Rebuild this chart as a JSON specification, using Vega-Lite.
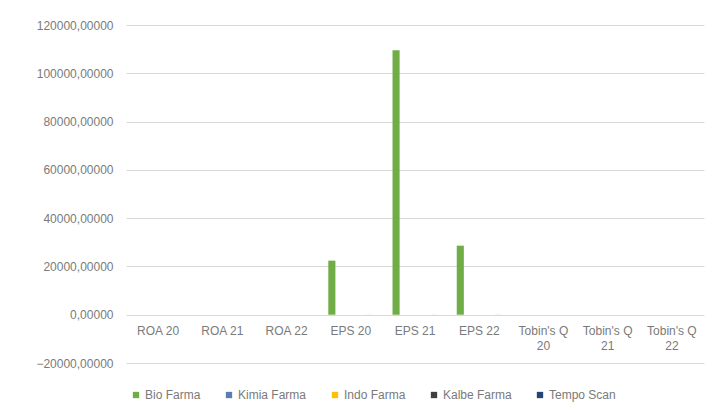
{
  "$schema": "https://vega.github.io/schema/vega-lite/v6.json",
  "autosize": "none",
  "width": 578,
  "height": 338,
  "padding": {"left": 126, "top": 25, "right": 11, "bottom": 53},
  "background": "white",
  "config": {
    "view": {"stroke": null},
    "font": "Liberation Sans"
  },
  "data": {
    "values": [
      {"indikator": "ROA 20", "perusahaan": "Bio Farma", "nilai": 0.03},
      {"indikator": "ROA 20", "perusahaan": "Kimia Farma", "nilai": 0.0},
      {"indikator": "ROA 20", "perusahaan": "Indo Farma", "nilai": 0.0},
      {"indikator": "ROA 20", "perusahaan": "Kalbe Farma", "nilai": 0.12},
      {"indikator": "ROA 20", "perusahaan": "Tempo Scan", "nilai": 0.09},
      {"indikator": "ROA 21", "perusahaan": "Bio Farma", "nilai": 0.05},
      {"indikator": "ROA 21", "perusahaan": "Kimia Farma", "nilai": 0.01},
      {"indikator": "ROA 21", "perusahaan": "Indo Farma", "nilai": -0.02},
      {"indikator": "ROA 21", "perusahaan": "Kalbe Farma", "nilai": 0.13},
      {"indikator": "ROA 21", "perusahaan": "Tempo Scan", "nilai": 0.09},
      {"indikator": "ROA 22", "perusahaan": "Bio Farma", "nilai": 0.01},
      {"indikator": "ROA 22", "perusahaan": "Kimia Farma", "nilai": -0.01},
      {"indikator": "ROA 22", "perusahaan": "Indo Farma", "nilai": -0.1},
      {"indikator": "ROA 22", "perusahaan": "Kalbe Farma", "nilai": 0.13},
      {"indikator": "ROA 22", "perusahaan": "Tempo Scan", "nilai": 0.1},
      {"indikator": "EPS 20", "perusahaan": "Bio Farma", "nilai": 22400},
      {"indikator": "EPS 20", "perusahaan": "Kimia Farma", "nilai": 3},
      {"indikator": "EPS 20", "perusahaan": "Indo Farma", "nilai": 0},
      {"indikator": "EPS 20", "perusahaan": "Kalbe Farma", "nilai": 6},
      {"indikator": "EPS 20", "perusahaan": "Tempo Scan", "nilai": 18},
      {"indikator": "EPS 21", "perusahaan": "Bio Farma", "nilai": 109500},
      {"indikator": "EPS 21", "perusahaan": "Kimia Farma", "nilai": 5},
      {"indikator": "EPS 21", "perusahaan": "Indo Farma", "nilai": -2},
      {"indikator": "EPS 21", "perusahaan": "Kalbe Farma", "nilai": 7},
      {"indikator": "EPS 21", "perusahaan": "Tempo Scan", "nilai": 20},
      {"indikator": "EPS 22", "perusahaan": "Bio Farma", "nilai": 28600},
      {"indikator": "EPS 22", "perusahaan": "Kimia Farma", "nilai": -3},
      {"indikator": "EPS 22", "perusahaan": "Indo Farma", "nilai": -17},
      {"indikator": "EPS 22", "perusahaan": "Kalbe Farma", "nilai": 7},
      {"indikator": "EPS 22", "perusahaan": "Tempo Scan", "nilai": 27},
      {"indikator": "Tobin's Q 20", "perusahaan": "Bio Farma", "nilai": 1.2},
      {"indikator": "Tobin's Q 20", "perusahaan": "Kimia Farma", "nilai": 2.1},
      {"indikator": "Tobin's Q 20", "perusahaan": "Indo Farma", "nilai": 3.4},
      {"indikator": "Tobin's Q 20", "perusahaan": "Kalbe Farma", "nilai": 3.5},
      {"indikator": "Tobin's Q 20", "perusahaan": "Tempo Scan", "nilai": 1.0},
      {"indikator": "Tobin's Q 21", "perusahaan": "Bio Farma", "nilai": 1.1},
      {"indikator": "Tobin's Q 21", "perusahaan": "Kimia Farma", "nilai": 1.6},
      {"indikator": "Tobin's Q 21", "perusahaan": "Indo Farma", "nilai": 2.0},
      {"indikator": "Tobin's Q 21", "perusahaan": "Kalbe Farma", "nilai": 3.4},
      {"indikator": "Tobin's Q 21", "perusahaan": "Tempo Scan", "nilai": 0.9},
      {"indikator": "Tobin's Q 22", "perusahaan": "Bio Farma", "nilai": 1.0},
      {"indikator": "Tobin's Q 22", "perusahaan": "Kimia Farma", "nilai": 1.1},
      {"indikator": "Tobin's Q 22", "perusahaan": "Indo Farma", "nilai": 1.5},
      {"indikator": "Tobin's Q 22", "perusahaan": "Kalbe Farma", "nilai": 3.7},
      {"indikator": "Tobin's Q 22", "perusahaan": "Tempo Scan", "nilai": 0.9}
    ]
  },
  "mark": {"type": "bar"},
  "encoding": {
    "x": {
      "field": "indikator",
      "type": "nominal",
      "sort": null,
      "scale": {"paddingInner": 0.3, "paddingOuter": 0.15},
      "axis": {
        "title": null,
        "orient": "bottom",
        "offset": -49,
        "domain": false,
        "ticks": false,
        "grid": false,
        "labelAngle": 0,
        "labelPadding": 11,
        "labelFontSize": 12,
        "labelColor": "#7a7a7a",
        "labelLineHeight": 15,
        "labelExpr": "indexof(datum.label, 'Tobin') >= 0 ? [substring(datum.label, 0, 9), substring(datum.label, 10)] : datum.label"
      }
    },
    "xOffset": {
      "field": "perusahaan",
      "type": "nominal",
      "sort": ["Bio Farma", "Kimia Farma", "Indo Farma", "Kalbe Farma", "Tempo Scan"],
      "scale": {"paddingInner": 0.25}
    },
    "y": {
      "field": "nilai",
      "type": "quantitative",
      "scale": {"domain": [-20000, 120000], "nice": false, "zero": false},
      "axis": {
        "title": null,
        "values": [-20000, 0, 20000, 40000, 60000, 80000, 100000, 120000],
        "domain": false,
        "ticks": false,
        "grid": true,
        "gridColor": "#d9d9d9",
        "gridWidth": 1,
        "labelPadding": 13,
        "labelFontSize": 12,
        "labelColor": "#7a7a7a",
        "labelExpr": "replace(format(datum.value, '.5f'), '.', ',')"
      }
    },
    "color": {
      "field": "perusahaan",
      "type": "nominal",
      "sort": ["Bio Farma", "Kimia Farma", "Indo Farma", "Kalbe Farma", "Tempo Scan"],
      "scale": {
        "domain": ["Bio Farma", "Kimia Farma", "Indo Farma", "Kalbe Farma", "Tempo Scan"],
        "range": ["#70AD47", "#5B7DB1", "#FFC000", "#3F3F3F", "#264478"]
      },
      "legend": {
        "title": null,
        "orient": "none",
        "direction": "horizontal",
        "legendX": 4,
        "legendY": 364,
        "symbolType": "square",
        "symbolSize": 40,
        "symbolStrokeWidth": 0,
        "labelFontSize": 12,
        "labelColor": "#7a7a7a",
        "labelOffset": 3,
        "columnPadding": 22
      }
    }
  }
}
